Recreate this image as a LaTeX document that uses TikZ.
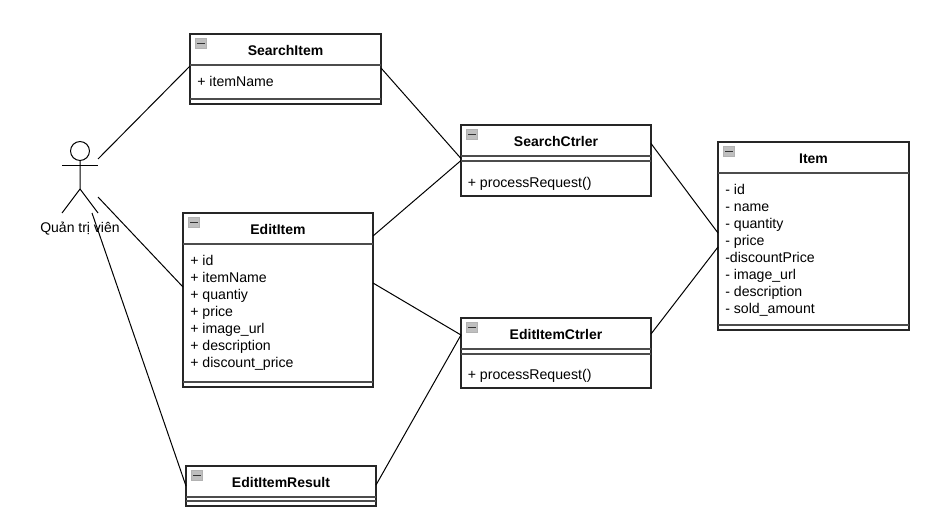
\documentclass[tikz,border=0pt]{standalone}
\usepackage{fontspec}
\setmainfont{Liberation Sans}
\usetikzlibrary{calc}
\tikzset{
  pxgrid/.style={x=0.75pt,y=-0.75pt},
  umlframe/.style={draw=black!85,line width=0.85pt,fill=white,inner sep=0pt,outer sep=0pt,rectangle},
  umlrule/.style={draw=black!70,line width=0.85pt},
  umltitle/.style={font=\fontsize{10.5pt}{12.75pt}\selectfont\bfseries,inner sep=0pt,anchor=center},
  umlrows/.style={font=\fontsize{10.6pt}{12.75pt}\selectfont,inner sep=0pt,anchor=north west,align=left},
  iconbox/.style={draw=black!30,fill=black!25,line width=0.4pt},
  iconbar/.style={draw=black!80,line width=1pt},
  assoc/.style={draw=black,line width=0.75pt},
  actorline/.style={draw=black,line width=0.75pt},
}
% name, x1, y1, x2, y2, rule 1, rule 2, title
\newcommand{\umlbox}[8]{%
  \node[umlframe,minimum width=#4*0.75pt-#2*0.75pt,minimum height=#5*0.75pt-#3*0.75pt]
    (#1) at ({(#2+#4)/2},{(#3+#5)/2}) {};
  \draw[umlrule] (#2,#6) -- (#4,#6);
  \draw[umlrule] (#2,#7) -- (#4,#7);
  \node[umltitle] (#1title) at ({(#2+#4)/2},{(#3+#6)/2+1}) {#8};
  \draw[iconbox] ({#2+5.5},{#3+4.5}) rectangle ({#2+16},{#3+14.5});
  \draw[iconbar] ({#2+7},{#3+9.5}) -- ({#2+14.5},{#3+9.5});
}
\begin{document}
\begin{tikzpicture}[pxgrid]
\useasboundingbox (0,0) rectangle (932,528);
\fill[white] (0,0) rectangle (932,528);

\umlbox{searchitem}{190}{34}{381}{104}{65}{99}{SearchItem}
\node[umlrows] (searchitemrows) at (197,75.5) {+ itemName};

\umlbox{edititem}{183}{213}{373}{387}{244}{382}{EditItem}
\node[umlrows] (edititemrows) at (190,254.5) {+ id\\+ itemName\\+ quantiy\\+ price\\+ image\_url\\+ description\\+ discount\_price};

\umlbox{result}{186}{466}{376}{506}{497}{501}{EditItemResult}

\umlbox{searchctrl}{461}{125}{651}{196}{156}{161}{SearchCtrler}
\node[umlrows] (searchctrlrows) at (467.5,176.5) {+ processRequest()};

\umlbox{editctrl}{461}{318}{651}{388}{349}{354}{EditItemCtrler}
\node[umlrows] (editctrlrows) at (467.5,368.5) {+ processRequest()};

\umlbox{item}{718}{142}{909}{330}{173}{325}{Item}
\node[umlrows] (itemrows) at (725,183.5) {- id\\- name\\- quantity\\- price\\-discountPrice\\- image\_url\\- description\\- sold\_amount};

% actor
\node[circle,draw=black,line width=0.75pt,minimum size=14.2pt,inner sep=0pt] (head) at (80,151) {};
\coordinate (hip) at (80,189);
\coordinate (armL) at (62,165.5);
\coordinate (armR) at (98,165.5);
\coordinate (footL) at (62,213);
\coordinate (footR) at (98,213);
\draw[actorline] (head.south) -- (hip) -- (footL);
\draw[actorline] (hip) -- (footR);
\draw[actorline] (armL) -- (armR);
\node[font=\fontsize{10.5pt}{12pt}\selectfont,inner sep=0pt] (actorlabel) at (80,229) {Quản trị viên};

% connectors
\coordinate (actorA) at (98,159);
\coordinate (actorB) at (98,197);
\coordinate (actorC) at (92,213);
\draw[assoc] (actorA) -- ($(searchitem.west)+(0,-3)$);
\draw[assoc] (actorB) -- ($(edititem.west)+(0,-13)$);
\draw[assoc] (actorC) -- ($(result.west)+(0,0)$);
\draw[assoc] ($(searchitem.east)+(0,-1)$) -- ($(searchctrl.west)+(0,-2)$);
\draw[assoc] ($(edititem.east)+(0,-64)$) -- ($(searchctrl.west)+(0,0)$);
\draw[assoc] ($(edititem.east)+(0,-17)$) -- ($(editctrl.west)+(0,-18)$);
\draw[assoc] ($(result.east)+(0,-1)$) -- ($(editctrl.west)+(0,-18)$);
\draw[assoc] ($(searchctrl.east)+(0,-17)$) -- ($(item.west)+(0,-3)$);
\draw[assoc] ($(editctrl.east)+(0,-19)$) -- ($(item.west)+(0,11)$);
\end{tikzpicture}
\end{document}
